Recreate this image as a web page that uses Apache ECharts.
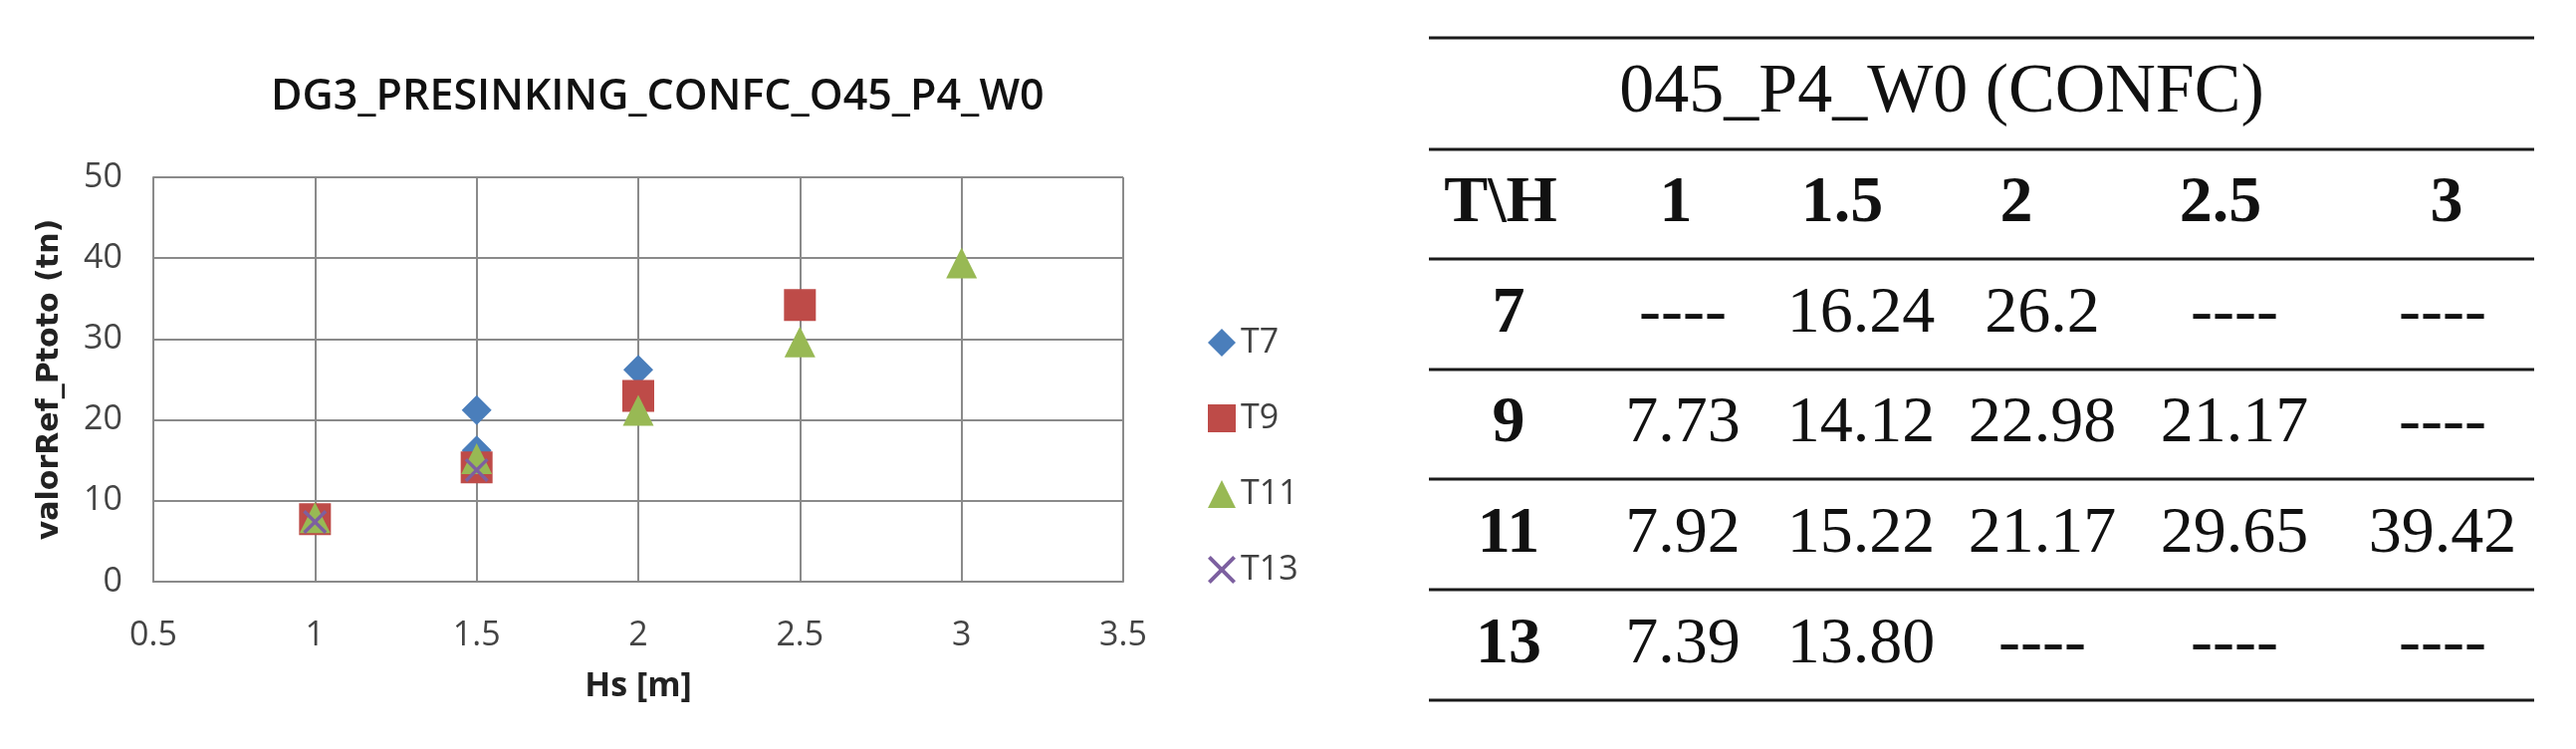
<!DOCTYPE html>
<html>
<head>
<meta charset="utf-8">
<script src="https://cdn.jsdelivr.net/npm/echarts@6/dist/echarts.min.js"></script>
<style>
html,body{margin:0;padding:0;background:#fff;}
#chart{width:2587px;height:752px;}
</style>
</head>
<body>
<div id="chart"></div>
<script>
// ---- chart data ----
const chartTitle = 'DG3_PRESINKING_CONFC_O45_P4_W0';
const xAxisTitle = 'Hs [m]';
const yAxisTitle = 'valorRef_Ptoto (tn)';
const seriesNames = ['T7', 'T9', 'T11', 'T13'];
const t7Points = [[1.5, 21.2], [1.5, 16.24], [2, 26.2]];
const t9Points = [[1, 7.73], [1.5, 14.12], [2, 22.98], [2.5, 34.2]];
const t11Points = [[1, 7.92], [1.5, 15.22], [2, 21.17], [2.5, 29.65], [3, 39.42]];
const t13Points = [[1, 7.39], [1.5, 13.80]];
const xRange = [0.5, 3.5, 0.5];
const yRange = [0, 50, 10];

// ---- table data ----
const tableTitle = '045_P4_W0 (CONFC)';
const tableHeader = ['T\\H', '1', '1.5', '2', '2.5', '3'];
const tableRowLabels = ['7', '9', '11', '13'];
const tableRows = [
  ['----', '16.24', '26.2', '----', '----'],
  ['7.73', '14.12', '22.98', '21.17', '----'],
  ['7.92', '15.22', '21.17', '29.65', '39.42'],
  ['7.39', '13.80', '----', '----', '----']
];

// ---- layout / style ----
const colors = ['#4A7EBB', '#BE4B48', '#98B954', '#7D60A0'];
const crossPath = 'path://M0,2 L2,0 L10,8 L18,0 L20,2 L12,10 L20,18 L18,20 L10,12 L2,20 L0,18 L8,10 Z';
const symbols = ['diamond', 'rect', 'triangle', crossPath];
const symbolSizes = [30, 32, 31, 24];
const allPoints = [t7Points, t9Points, t11Points, t13Points];

const tbl = {
  x0: 1435, x1: 2545,
  lineY: [38, 150, 260, 371, 481, 592, 703],
  headerX: [1507, 1683, 1850, 2025, 2230, 2457],
  dataX: [1515, 1690, 1869, 2051, 2244, 2453],
  titleX: 1950,
  font: '"Liberation Serif", "DejaVu Serif", serif',
  size: 66,
  titleSize: 70
};

const graphics = [];
tbl.lineY.forEach(function (y) {
  graphics.push({
    type: 'line', silent: true,
    shape: { x1: tbl.x0, y1: y, x2: tbl.x1, y2: y },
    style: { stroke: '#1a1a1a', lineWidth: 3 }
  });
});
function cellText(txt, x, rowIdx, bold, size) {
  const yc = (tbl.lineY[rowIdx] + tbl.lineY[rowIdx + 1]) / 2;
  graphics.push({
    type: 'text', silent: true, x: x, y: yc,
    style: {
      text: txt, fill: '#111', align: 'center', verticalAlign: 'middle',
      font: (bold ? 'bold ' : '') + (size || tbl.size) + 'px ' + tbl.font
    }
  });
}
cellText(tableTitle, tbl.titleX, 0, false, tbl.titleSize);
tableHeader.forEach(function (h, i) { cellText(h, tbl.headerX[i], 1, true); });
tableRowLabels.forEach(function (lab, r) {
  cellText(lab, tbl.dataX[0], r + 2, true);
  tableRows[r].forEach(function (v, c) { cellText(v, tbl.dataX[c + 1], r + 2, false); });
});

const sansFont = '"Open Sans", "Noto Sans", sans-serif';

const chart = echarts.init(document.getElementById('chart'), null, { renderer: 'canvas' });
chart.setOption({
  backgroundColor: '#ffffff',
  animation: false,
  title: {
    text: chartTitle,
    left: 272, top: 76, padding: 0,
    textStyle: { fontFamily: sansFont, fontSize: 43, fontWeight: 600, color: '#111' }
  },
  legend: {
    orient: 'vertical',
    left: 1208, top: 322,
    itemWidth: 28, itemHeight: 28, itemGap: 42,
    data: seriesNames,
    textStyle: { fontFamily: sansFont, fontSize: 34, color: '#404040' }
  },
  grid: { left: 154, top: 178, width: 974, height: 406, containLabel: false },
  xAxis: {
    type: 'value',
    min: xRange[0], max: xRange[1], interval: xRange[2],
    name: xAxisTitle, nameLocation: 'middle', nameGap: 88,
    nameTextStyle: { fontFamily: sansFont, fontSize: 34, fontWeight: 'bold', color: '#222' },
    axisLine: { show: true, lineStyle: { color: '#8a8a8a', width: 2 } },
    axisTick: { show: false },
    axisLabel: { fontFamily: sansFont, fontSize: 34, color: '#444', margin: 37 },
    splitLine: { show: true, lineStyle: { color: '#8a8a8a', width: 2 } }
  },
  yAxis: {
    type: 'value',
    min: yRange[0], max: yRange[1], interval: yRange[2],
    name: yAxisTitle, nameLocation: 'middle', nameGap: 89,
    nameTextStyle: { fontFamily: '"DejaVu Sans", Verdana, sans-serif', fontSize: 30, fontWeight: 'bold', color: '#222' },
    axisLine: { show: true, lineStyle: { color: '#8a8a8a', width: 2 } },
    axisTick: { show: false },
    axisLabel: { fontFamily: sansFont, fontSize: 34, color: '#444', margin: 31 },
    splitLine: { show: true, lineStyle: { color: '#8a8a8a', width: 2 } }
  },
  series: seriesNames.map(function (name, i) {
    return {
      name: name,
      type: 'scatter',
      data: allPoints[i],
      symbol: symbols[i],
      symbolSize: symbolSizes[i],
      itemStyle: { color: colors[i], opacity: 1 },
      z: 2 + i
    };
  }),
  graphic: graphics
});
</script>
</body>
</html>
